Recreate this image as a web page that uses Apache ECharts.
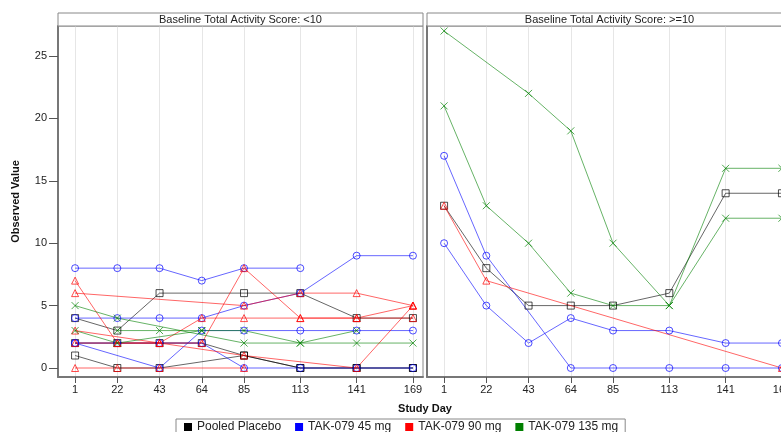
<!DOCTYPE html>
<html><head><meta charset="utf-8">
<script src="https://cdn.jsdelivr.net/npm/echarts@6/dist/echarts.min.js"></script>
<style>html,body{margin:0;padding:0;background:#fff}#c{width:781px;height:432px}</style>
</head><body><div id="c"></div>
<script>
// ---- data ----
const studyDays = [1, 22, 43, 64, 85, 113, 141, 169];
const yTicks = [0, 5, 10, 15, 20, 25];
const groupNames = ['Pooled Placebo', 'TAK-079 45 mg', 'TAK-079 90 mg', 'TAK-079 135 mg'];
const panelTitles = ['Baseline Total Activity Score: <10', 'Baseline Total Activity Score: >=10'];

// Panel 1: baseline < 10 (values per study day; null = no visit)
const low_placebo_1 = [4, 3, 6, null, 6, 6, 4, 4];
const low_placebo_2 = [1, 0, 0, null, 1, 0, 0, 0];
const low_placebo_3 = [2, 2, 2, 2, 1, 0, 0, 0];
const low_45_1 = [8, 8, 8, 7, 8, 8, null, null];
const low_45_2 = [4, 4, 4, 4, 5, 6, 9, 9];
const low_45_3 = [2, null, 0, 3, 3, 3, 3, 3];
const low_45_4 = [2, 2, 2, 2, 0, 0, 0, 0];
const low_90_1 = [7, 2, 2, 4, 4, 4, 4, 4];
const low_90_2 = [6, null, null, null, 5, 6, 6, 5];
const low_90_3 = [3, null, null, null, 1, null, 0, 5];
const low_90_4 = [2, 2, 2, 2, 8, 4, 4, 5];
const low_90_5 = [0, 0, 0, null, 0, null, null, null];
const low_135_1 = [5, 4, null, null, 2, 2, 2, 2];
const low_135_2 = [3, 2, null, 3, 3, 2, 3, null];
const low_135_3 = [null, 3, 3, 3, null, null, null, null];

// Panel 2: baseline >= 10
const high_placebo_1 = [13, 8, 5, 5, 5, 6, 14, 14];
const high_45_1 = [17, 9, null, 0, 0, 0, 0, 0];
const high_45_2 = [10, 5, 2, 4, 3, 3, 2, 2];
const high_90_1 = [13, 7, null, null, null, null, null, 0];
const high_135_1 = [27, null, 22, 19, 10, 5, 16, 16];
const high_135_2 = [21, 13, 10, 6, 5, 5, 12, 12];

// ---- styles ----
const groupColors = ['#000000', '#0000ff', '#ff0000', '#008000'];
const groupSymbols = ['rect', 'circle', 'triangle', 'path://M0,0L10,10M10,0L0,10'];
const FONT = 'Liberation Sans';

function subject(group, panel, vals) {
  const c = groupColors[group];
  return {
    type: 'line', name: groupNames[group],
    xAxisIndex: panel, yAxisIndex: panel,
    data: studyDays.map((d, i) => [d, vals[i]]).filter(p => p[1] !== null),
    symbol: groupSymbols[group], symbolSize: 7, showAllSymbol: true,
    lineStyle: { color: c, width: 1, opacity: 0.6 },
    itemStyle: { color: 'rgba(255,255,255,0)', borderColor: c, borderWidth: 1, opacity: 0.7 },
    emphasis: { disabled: true }, animation: false, z: 3
  };
}

const series = [
  subject(0, 0, low_placebo_1), subject(0, 0, low_placebo_2), subject(0, 0, low_placebo_3),
  subject(1, 0, low_45_1), subject(1, 0, low_45_2), subject(1, 0, low_45_3), subject(1, 0, low_45_4),
  subject(2, 0, low_90_1), subject(2, 0, low_90_2), subject(2, 0, low_90_3), subject(2, 0, low_90_4), subject(2, 0, low_90_5),
  subject(3, 0, low_135_1), subject(3, 0, low_135_2), subject(3, 0, low_135_3),
  subject(0, 1, high_placebo_1),
  subject(1, 1, high_45_1), subject(1, 1, high_45_2),
  subject(2, 1, high_90_1),
  subject(3, 1, high_135_1), subject(3, 1, high_135_2)
];

function xAxis(idx) {
  return {
    type: 'value', gridIndex: idx, min: -7.5, max: 174,
    axisLine: { show: true, onZero: false, lineStyle: { color: '#777', width: 2 } },
    axisTick: { show: true, customValues: studyDays, length: 6, lineStyle: { color: '#555' } },
    axisLabel: { customValues: studyDays, fontFamily: FONT, fontSize: 11, color: '#222', margin: 7 },
    splitLine: { show: true, lineStyle: { color: '#e6e6e6', width: 1 } }
  };
}
function yAxis(idx) {
  return {
    type: 'value', gridIndex: idx, min: -0.72, max: 27.4,
    axisLine: { show: true, onZero: false, lineStyle: { color: '#777', width: 2 } },
    axisTick: { show: idx === 0, customValues: yTicks, length: 9, lineStyle: { color: '#555' } },
    axisLabel: { show: idx === 0, customValues: yTicks, fontFamily: FONT, fontSize: 11, color: '#222', margin: 11 },
    splitLine: { show: false },
    name: idx === 0 ? 'Observed Value' : '', nameLocation: 'middle', nameGap: 37,
    nameTextStyle: { fontFamily: FONT, fontSize: 11, fontWeight: 'bold', color: '#111' }
  };
}

function header(x, w, text) {
  return [
    { type: 'rect', shape: { x: x, y: 13, width: w, height: 13 },
      style: { fill: '#fff', stroke: '#888', lineWidth: 1 }, z: 10 },
    { type: 'text', x: x + w / 2, y: 19.5,
      style: { text: text, font: '11px "' + FONT + '"', fill: '#222', align: 'center', verticalAlign: 'middle' }, z: 11 }
  ];
}

const option = {
  backgroundColor: '#fff',
  animation: false,
  grid: [
    { left: 58, top: 26, width: 365, height: 351, show: true, borderColor: '#888', borderWidth: 1, containLabel: false, outerBoundsMode: 'none' },
    { left: 427, top: 26, width: 365, height: 351, show: true, borderColor: '#888', borderWidth: 1, containLabel: false, outerBoundsMode: 'none' }
  ],
  xAxis: [xAxis(0), xAxis(1)],
  yAxis: [yAxis(0), yAxis(1)],
  legend: {
    data: groupNames.map((n, i) => ({ name: n, icon: 'rect', itemStyle: { color: groupColors[i], borderWidth: 0, opacity: 1 } })),
    left: 176, top: 419, itemWidth: 8, itemHeight: 8, itemGap: 14,
    borderColor: '#888', borderWidth: 1, padding: [2, 7, 8, 8], selectedMode: false,
    textStyle: { fontFamily: FONT, fontSize: 12, color: '#222' }
  },
  graphic: [
    ...header(58, 365, panelTitles[0]),
    ...header(427, 365, panelTitles[1]),
    { type: 'text', x: 425, y: 409,
      style: { text: 'Study Day', font: 'bold 11px "' + FONT + '"', fill: '#111', align: 'center', verticalAlign: 'middle' } }
  ],
  series: series
};

const chart = echarts.init(document.getElementById('c'), null, { renderer: 'canvas' });
chart.setOption(option);
</script></body></html>
